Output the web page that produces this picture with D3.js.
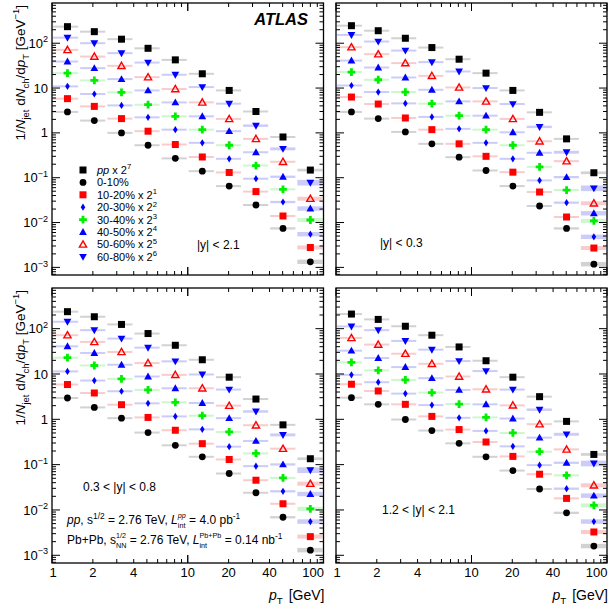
<!DOCTYPE html>
<html><head><meta charset="utf-8">
<script src="https://cdn.jsdelivr.net/npm/d3@7"></script>
<style>body{margin:0;background:#fff} svg{display:block} text{font-family:"Liberation Sans",Arial,sans-serif;white-space:pre}</style>
</head><body><svg id="c" width="610" height="611"></svg>
<script>
// ---------------- DATA ----------------
const ptCenters = [1.3, 2.05, 3.25, 5.1, 8.1, 12.8, 20.2, 31.8, 50.3, 80];
const binEdges = [1, 1.585, 2.512, 3.981, 6.31, 10, 15.85, 25.12, 39.81, 63.1, 100];
const legendNames = ["pp", "0-10%", "10-20%", "20-30%", "30-40%", "40-50%", "50-60%", "60-80%"];
const legendPowers = [7, null, 1, 2, 3, 4, 5, 6];
const panelLabels = ["|y| < 2.1", "|y| < 0.3", "0.3 < |y| < 0.8", "1.2 < |y| < 2.1"];
const yTickExponents = [2, 1, 0, -1, -2, -3];
const xTickLabels = [1, 2, 4, 10, 20, 40, 100];
const sysRel = [0.035, 0.03, 0.03, 0.03, 0.03, 0.035, 0.04, 0.05, 0.06, 0.12];

// rows: pp, 0-10, 10-20, 20-30, 30-40, 40-50, 50-60, 60-80 (already scaled)
const dY21 = [
  [234, 181, 123, 77, 42.5, 20.8, 8.85, 3.0, 0.81, 0.148],
  [2.93, 1.88, 1.0, 0.53, 0.27, 0.14, 0.065, 0.0246, 0.0074, 0.00133],
  [5.8, 3.9, 2.08, 1.09, 0.55, 0.29, 0.131, 0.049, 0.014, 0.00278],
  [10.9, 7.36, 4.1, 2.22, 1.18, 0.6, 0.264, 0.095, 0.0287, 0.0055],
  [21.5, 14.8, 8.0, 4.25, 2.34, 1.18, 0.53, 0.187, 0.055, 0.0114],
  [39, 27.8, 15.8, 8.85, 4.78, 2.34, 1.09, 0.37, 0.105, 0.0205],
  [71, 50.4, 31.3, 17.5, 9.5, 4.79, 2.05, 0.735, 0.227, 0.034],
  [133, 100, 60, 37, 19.8, 10.5, 4.48, 1.45, 0.44, 0.0775]
];
const dY03 = [
  [246, 190, 129, 80, 44, 21.5, 8.85, 2.87, 0.735, 0.129],
  [2.93, 2.08, 1.05, 0.57, 0.287, 0.145, 0.065, 0.0234, 0.0074, 0.00118],
  [6.3, 4.4, 2.15, 1.18, 0.57, 0.3, 0.133, 0.048, 0.0133, 0.0027],
  [11.4, 8.15, 4.55, 2.27, 1.23, 0.6, 0.264, 0.087, 0.0278, 0.0048],
  [22.7, 15.3, 8.15, 4.48, 2.42, 1.18, 0.53, 0.175, 0.053, 0.0109],
  [41, 28.7, 17.2, 9.15, 5.04, 2.42, 1.03, 0.36, 0.103, 0.0161],
  [81.5, 57, 36, 18.7, 10.3, 5.04, 2.05, 0.65, 0.234, 0.0269],
  [153, 109, 68.5, 37.8, 23.4, 10, 4.4, 1.36, 0.37, 0.058]
];
const dY0308 = [
  [237, 183, 124, 78, 43, 20.6, 8.5, 2.8, 0.755, 0.135],
  [2.95, 1.83, 1.06, 0.51, 0.267, 0.149, 0.0637, 0.024, 0.0069, 0.0013],
  [5.85, 3.81, 2.1, 1.1, 0.574, 0.29, 0.13, 0.0453, 0.0137, 0.00258],
  [11.4, 7.17, 4.16, 2.25, 1.16, 0.6, 0.249, 0.0927, 0.0258, 0.00555],
  [22.9, 15.4, 7.8, 4.45, 2.37, 1.2, 0.527, 0.177, 0.051, 0.0106],
  [40.8, 29, 16, 8.8, 4.84, 2.29, 1.06, 0.333, 0.101, 0.0225],
  [71.7, 51, 30.6, 17.4, 9.58, 4.84, 2.0, 0.74, 0.225, 0.038],
  [142, 92.6, 60.4, 38.1, 19, 9.75, 4.53, 1.49, 0.453, 0.0755]
];
const dY1221 = [
  [210, 160, 113, 71.7, 39.5, 19.6, 8.5, 3.16, 0.9, 0.168],
  [3.0, 2.14, 0.99, 0.565, 0.295, 0.149, 0.074, 0.029, 0.00865, 0.0016],
  [5.94, 4.22, 2.14, 1.16, 0.594, 0.316, 0.152, 0.0615, 0.018, 0.00327],
  [9.58, 6.58, 3.69, 2.06, 1.08, 0.555, 0.253, 0.0975, 0.0295, 0.00555],
  [18, 12, 7.4, 3.88, 2.17, 1.1, 0.5, 0.193, 0.058, 0.0126],
  [32.7, 22.5, 14.2, 8.08, 4.45, 2.14, 1.04, 0.394, 0.11, 0.0207],
  [62.5, 44.5, 28, 16.8, 8.8, 4.6, 2.03, 0.78, 0.217, 0.035],
  [112, 92.6, 53.7, 34.4, 19.3, 11.6, 4.53, 1.63, 0.467, 0.106]
];
const panelData = [dY21, dY03, dY0308, dY1221];

// ---------------- STYLE ----------------
const svg = d3.select("#c");
const seriesStyle = [
  {col: "#000", band: "#d2d2d2", m: "square"},
  {col: "#000", band: "#d2d2d2", m: "circle"},
  {col: "#ff0000", band: "#f8cccc", m: "square"},
  {col: "#0000ff", band: "#ccccf8", m: "diamond"},
  {col: "#00ee00", band: "#cdf7cd", m: "cross"},
  {col: "#0000ff", band: "#ccccf8", m: "tri"},
  {col: "#ff0000", band: "#f8cccc", m: "otri"},
  {col: "#0000ff", band: "#ccccf8", m: "dtri"}
];
const sysScale = [0.6, 1.0, 0.9, 1.0, 0.9, 1.0, 0.9, 1.3];

const panels = [
  {x0: 52, x1: 323.5, y0: 3, y1: 275, left: true, bottom: false},
  {x0: 336, x1: 607, y0: 3, y1: 275, left: false, bottom: false},
  {x0: 52, x1: 323.5, y0: 288, y1: 563, left: true, bottom: true},
  {x0: 336, x1: 607, y0: 288, y1: 563, left: false, bottom: true}
];
const yDomain = [Math.pow(10, -3.17), Math.pow(10, 2.897)];

function rich(parent, x, y, parts, fs, anchor) {
  const g = parent.append("g");
  let cx = 0;
  parts.forEach(p => {
    if (p.t !== undefined) {
      const t = g.append("text").attr("x", cx).attr("y", 0).attr("font-size", fs)
        .attr("font-style", p.i ? "italic" : "normal").attr("font-weight", p.b ? "bold" : "normal")
        .attr("fill", "#000").text(p.t);
      cx += t.node().getComputedTextLength();
    } else {
      let w = 0;
      const stacked = p.sup !== undefined && p.sub !== undefined;
      const s = stacked ? fs * 0.6 : fs * 0.7;
      if (p.sup !== undefined) {
        const t = g.append("text").attr("x", cx).attr("y", stacked ? -fs * 0.5 : -fs * 0.42).attr("font-size", s)
          .attr("font-style", p.supI ? "italic" : "normal").text(p.sup);
        w = Math.max(w, t.node().getComputedTextLength());
      }
      if (p.sub !== undefined) {
        const t = g.append("text").attr("x", cx).attr("y", stacked ? fs * 0.36 : fs * 0.28).attr("font-size", s)
          .attr("font-style", p.subI ? "italic" : "normal").text(p.sub);
        w = Math.max(w, t.node().getComputedTextLength());
      }
      cx += w + (p.gap || 0);
    }
  });
  const ox = anchor === "end" ? x - cx : anchor === "middle" ? x - cx / 2 : x;
  g.attr("transform", `translate(${ox},${y})`);
  return g;
}

function marker(g, type, cx, cy, col) {
  if (type === "square") {
    g.append("rect").attr("x", cx - 3.5).attr("y", cy - 3.5).attr("width", 7).attr("height", 7).attr("fill", col);
  } else if (type === "circle") {
    g.append("circle").attr("cx", cx).attr("cy", cy).attr("r", 3.4).attr("fill", col);
  } else if (type === "diamond") {
    g.append("path").attr("d", `M${cx},${cy - 3.6}L${cx + 2.3},${cy}L${cx},${cy + 3.6}L${cx - 2.3},${cy}Z`).attr("fill", col);
  } else if (type === "cross") {
    const a = 3.9, b = 1.4;
    g.append("path").attr("d",
      `M${cx - b},${cy - a}H${cx + b}V${cy - b}H${cx + a}V${cy + b}H${cx + b}V${cy + a}H${cx - b}V${cy + b}H${cx - a}V${cy - b}H${cx - b}Z`)
      .attr("fill", col);
  } else if (type === "tri") {
    g.append("path").attr("d", `M${cx},${cy - 4}L${cx + 3.9},${cy + 2.9}L${cx - 3.9},${cy + 2.9}Z`).attr("fill", col);
  } else if (type === "otri") {
    g.append("path").attr("d", `M${cx},${cy - 3.6}L${cx + 3.6},${cy + 2.7}L${cx - 3.6},${cy + 2.7}Z`)
      .attr("fill", "none").attr("stroke", col).attr("stroke-width", 1.4);
  } else if (type === "dtri") {
    g.append("path").attr("d", `M${cx},${cy + 4}L${cx + 3.9},${cy - 2.9}L${cx - 3.9},${cy - 2.9}Z`).attr("fill", col);
  }
}

panels.forEach((P, pi) => {
  const x = d3.scaleLog().domain([1, 100]).range([P.x0, P.x1]);
  const y = d3.scaleLog().domain(yDomain).range([P.y1, P.y0]);
  const g = svg.append("g");
  const data = panelData[pi];

  // bands
  data.forEach((row, si) => {
    const st = seriesStyle[si];
    row.forEach((v, bi) => {
      const s = sysRel[bi] * sysScale[si];
      let yt = y(v * (1 + s)), yb = y(v / (1 + s));
      if (yb - yt < 2) { const m = (yt + yb) / 2; yt = m - 1; yb = m + 1; }
      g.append("rect").attr("x", x(binEdges[bi]) + 1).attr("width", x(binEdges[bi + 1]) - x(binEdges[bi]) - 2)
        .attr("y", yt).attr("height", yb - yt).attr("fill", st.band);
    });
  });
  // markers
  data.forEach((row, si) => {
    const st = seriesStyle[si];
    row.forEach((v, bi) => marker(g, st.m, x(ptCenters[bi]), y(v), st.col));
  });

  // frame
  g.append("rect").attr("x", P.x0).attr("y", P.y0).attr("width", P.x1 - P.x0).attr("height", P.y1 - P.y0)
    .attr("fill", "none").attr("stroke", "#000").attr("stroke-width", 1.3);

  // x ticks
  const ax = g.append("g").attr("stroke", "#000").attr("stroke-width", 1);
  for (let d = 1; d <= 10; d *= 10) {
    for (let m = 1; m <= 10; m++) {
      const v = m * d;
      if (v > 100) continue;
      const major = (m === 1 || m === 10);
      const L = major ? 8 : 4;
      const xx = x(v);
      ax.append("line").attr("x1", xx).attr("x2", xx).attr("y1", P.y1).attr("y2", P.y1 - L);
      ax.append("line").attr("x1", xx).attr("x2", xx).attr("y1", P.y0).attr("y2", P.y0 + L);
    }
  }
  // y ticks
  for (let e = -4; e <= 2; e++) {
    for (let m = 1; m <= 9; m++) {
      const v = m * Math.pow(10, e);
      if (v < yDomain[0] || v > yDomain[1]) continue;
      const L = m === 1 ? 8 : 4;
      const yy = y(v);
      ax.append("line").attr("x1", P.x0).attr("x2", P.x0 + L).attr("y1", yy).attr("y2", yy);
      ax.append("line").attr("x1", P.x1).attr("x2", P.x1 - L).attr("y1", yy).attr("y2", yy);
    }
  }

  // y tick labels
  if (P.left) {
    yTickExponents.forEach(e => {
      const yy = y(Math.pow(10, e)) + 4.6;
      let parts;
      if (e === 0) parts = [{t: "1"}];
      else if (e === 1) parts = [{t: "10"}];
      else parts = [{t: "10"}, {sup: e < 0 ? "\u2212" + (-e) : String(e)}];
      rich(svg, P.x0 - 4, yy, parts, 13, "end");
    });
    // y title
    const tg = svg.append("g").attr("transform", `translate(${P.x0 - 27},${P.y0 + 2}) rotate(-90)`);
    rich(tg, 0, 0, [{t: "1/"}, {t: "N", i: true}, {sub: "jet"}, {t: " d"}, {t: "N", i: true}, {sub: "ch"},
      {t: "/d"}, {t: "p", i: true}, {sub: "T"}, {t: " [GeV"}, {sup: "\u22121"}, {t: "]"}], 13.5, "end");
  }
  // x tick labels
  if (P.bottom) {
    xTickLabels.forEach(v => {
      const anchor = v === 100 ? "end" : "middle";
      const xx = v === 100 ? P.x1 + 0.5 : x(v) + (v === 1 ? 1 : 0);
      svg.append("text").attr("x", xx).attr("y", P.y1 + 14).attr("font-size", 13)
        .attr("text-anchor", anchor).text(String(v));
    });
    rich(svg, P.x1 + 1, P.y1 + 37, [{t: "p", i: true}, {sub: "T", gap: 2}, {t: " [GeV]"}], 14, "end");
  }
});

// Panel labels
rich(svg, 197, 249, [{t: panelLabels[0]}], 12, "start");
rich(svg, 380, 247, [{t: panelLabels[1]}], 12, "start");
rich(svg, 83, 491, [{t: panelLabels[2]}], 12, "start");
rich(svg, 382, 514, [{t: panelLabels[3]}], 12, "start");

// ATLAS
svg.append("text").attr("x", 308).attr("y", 25).attr("text-anchor", "end").attr("font-size", 16.5)
  .attr("font-weight", "bold").attr("font-style", "italic").text("ATLAS");

// Luminosity text
rich(svg, 67, 524, [{t: "pp", i: true}, {t: ", s"}, {sup: "1/2"}, {t: " = 2.76 TeV, "}, {t: "L", i: true},
  {sub: "int", sup: "pp", supI: true}, {t: " = 4.0 pb"}, {sup: "-1"}], 12, "start");
rich(svg, 67, 544, [{t: "Pb+Pb, s"}, {sub: "NN", sup: "1/2"}, {t: " = 2.76 TeV, "}, {t: "L", i: true},
  {sub: "int", sup: "Pb+Pb"}, {t: " = 0.14 nb"}, {sup: "-1"}], 12, "start");

// Legend
const lg = svg.append("g");
legendNames.forEach((n, i) => {
  const yy = 170 + i * 12.4;
  marker(lg, seriesStyle[i].m, 83, yy, seriesStyle[i].col);
  const parts = i === 0 ? [{t: "pp", i: true}] : [{t: n}];
  if (legendPowers[i] !== null) { parts.push({t: " x 2"}); parts.push({sup: String(legendPowers[i])}); }
  rich(lg, 97, yy + 4, parts, 11, "start");
});
</script></body></html>
